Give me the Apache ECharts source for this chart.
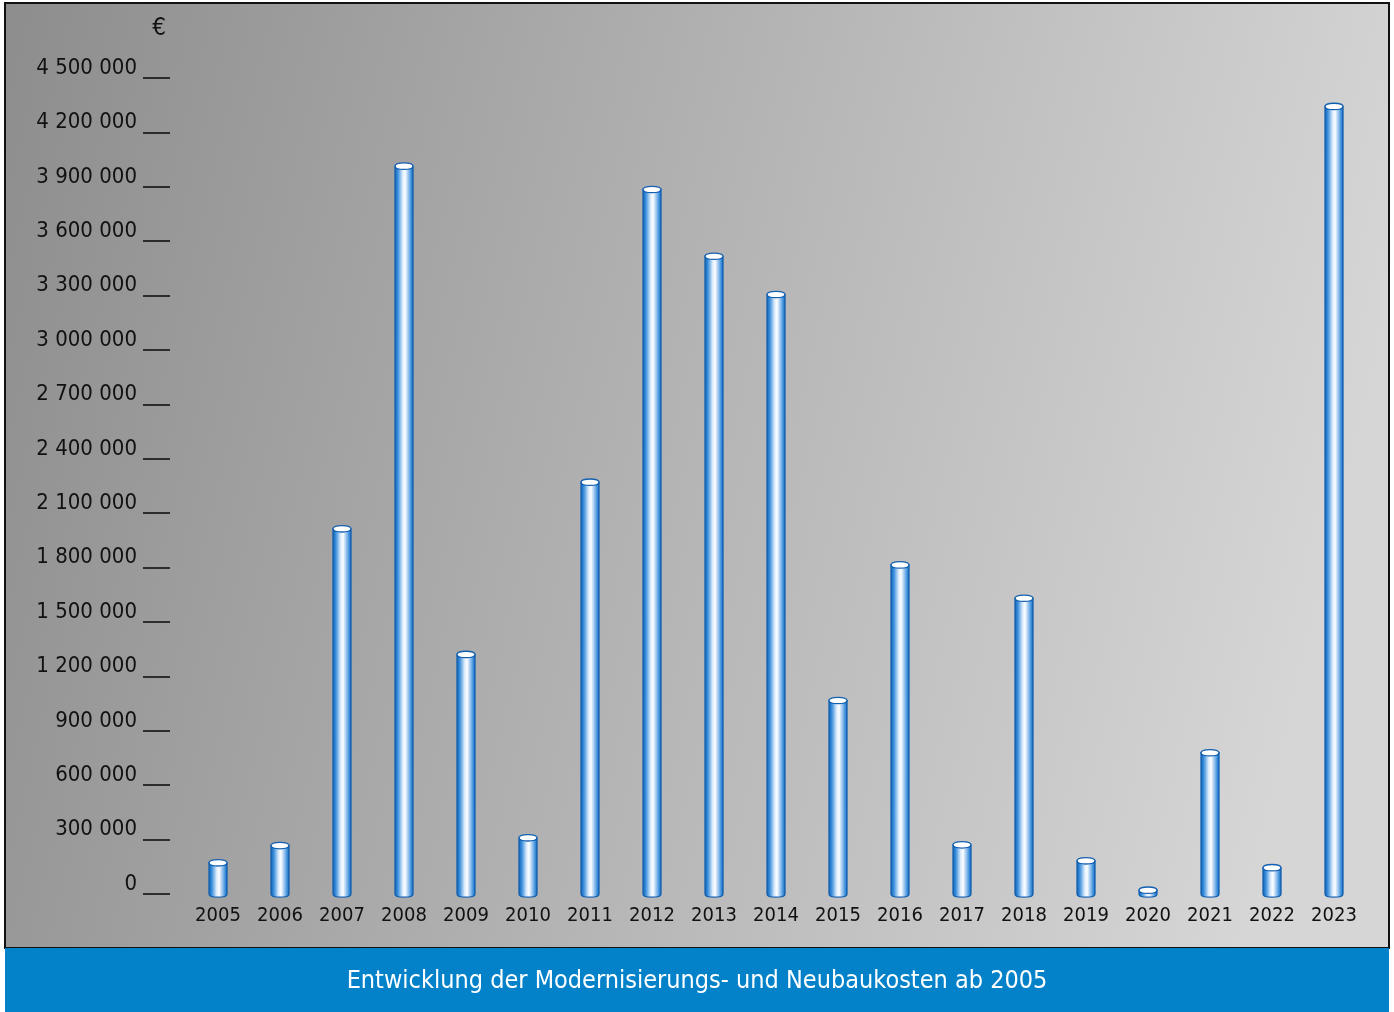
<!DOCTYPE html>
<html>
<head>
<meta charset="utf-8">
<script src="https://cdn.jsdelivr.net/npm/echarts@6/dist/echarts.min.js"></script>
<style>
  html, body { margin: 0; padding: 0; background: #ffffff; }
  #chart { width: 1394px; height: 1012px; }
</style>
</head>
<body>
<div id="chart"></div>
<script>
const years = ['2005', '2006', '2007', '2008', '2009', '2010', '2011', '2012', '2013', '2014',
               '2015', '2016', '2017', '2018', '2019', '2020', '2021', '2022', '2023'];
const costs = [172000, 267000, 2014000, 4014000, 1321000, 310000, 2271000, 3885000, 3517000, 3306000,
               1067000, 1815000, 271000, 1631000, 183000, 21000, 779000, 145000, 4343000];
const yMin = 0;
const yMax = 4500000;
const yStep = 300000;
const unitLabel = '€';
const title = 'Entwicklung der Modernisierungs- und Neubaukosten ab 2005';

const FONT = "'DejaVu Sans Condensed', 'DejaVu Sans', sans-serif";

function fmt(v) {
  return String(v).replace(/\B(?=(\d{3})+(?!\d))/g, ' ');
}

function renderCylinder(params, api) {
  const idx = api.value(0);
  const top = api.coord([idx, api.value(1)]);
  const base = api.coord([idx, 0]);
  const w = api.size([1, 0])[0] * 0.29;
  const rx = w / 2, ry = 3.2, k = ry * 4 / 3;
  const cx = top[0], L = cx - rx, R = cx + rx;
  const ty = top[1], by = base[1];
  const body = `M${L},${ty} L${L},${by} C${L},${by + k} ${R},${by + k} ${R},${by} L${R},${ty} Z`;
  const cap = `M${L},${ty} C${L},${ty - k} ${R},${ty - k} ${R},${ty} C${R},${ty + k} ${L},${ty + k} ${L},${ty} Z`;
  return {
    type: 'group',
    children: [
      {
        type: 'path',
        shape: { pathData: body },
        style: {
          fill: {
            type: 'linear', x: 0, y: 0, x2: 1, y2: 0,
            colorStops: [
              { offset: 0, color: '#0b5cae' },
              { offset: 0.18, color: '#3b8fdc' },
              { offset: 0.42, color: '#d8e9fb' },
              { offset: 0.55, color: '#ffffff' },
              { offset: 0.72, color: '#9cc6f0' },
              { offset: 0.9, color: '#2f86d6' },
              { offset: 1, color: '#0b5cae' }
            ]
          },
          stroke: '#1460b0',
          lineWidth: 1.3
        }
      },
      {
        type: 'path',
        shape: { pathData: cap },
        style: { fill: '#ffffff', stroke: '#1460b0', lineWidth: 1.3 }
      }
    ]
  };
}

const chart = echarts.init(document.getElementById('chart'), null, { renderer: 'canvas' });

chart.setOption({
  animation: false,
  backgroundColor: '#ffffff',
  grid: { left: 187, right: 29, top: 78, bottom: 118, containLabel: false },
  graphic: [
    {
      type: 'rect', z: -10, silent: true,
      shape: { x: 5, y: 3, width: 1384, height: 945 },
      style: {
        fill: {
          type: 'linear', x: 0, y: 0, x2: 1, y2: 0.35,
          colorStops: [
            { offset: 0, color: '#8d8d8d' },
            { offset: 1, color: '#d6d6d6' }
          ]
        },
        stroke: '#111111',
        lineWidth: 2
      }
    },
    {
      type: 'rect', z: -9, silent: true,
      shape: { x: 5, y: 948, width: 1384, height: 64 },
      style: { fill: '#0382ca' }
    },
    {
      type: 'text', z: 10, silent: true,
      x: 697, y: 981,
      style: {
        text: title, fill: '#ffffff', font: `25px ${FONT}`,
        align: 'center', verticalAlign: 'middle'
      }
    },
    {
      type: 'text', z: 10, silent: true,
      x: 159, y: 29,
      style: {
        text: unitLabel, fill: '#111111', font: `24px ${FONT}`,
        align: 'center', verticalAlign: 'middle'
      }
    }
  ],
  xAxis: {
    type: 'category',
    data: years,
    boundaryGap: true,
    axisLine: { show: false },
    axisTick: { show: false },
    axisLabel: {
      interval: 0,
      color: '#111111', fontFamily: FONT, fontSize: 20, margin: 12
    },
    splitLine: { show: false }
  },
  yAxis: {
    type: 'value',
    min: yMin, max: yMax, interval: yStep,
    offset: 17,
    axisLine: { show: false },
    axisTick: { show: true, inside: false, length: 27, lineStyle: { color: '#111111', width: 1.6 } },
    axisLabel: {
      color: '#111111', fontFamily: FONT, fontSize: 22, margin: 33,
      verticalAlign: 'bottom', lineHeight: 20,
      formatter: v => fmt(v)
    },
    splitLine: { show: false }
  },
  series: [{
    type: 'custom',
    renderItem: renderCylinder,
    encode: { x: 0, y: 1 },
    data: costs.map((v, i) => [i, v]),
    z: 5
  }]
});
</script>
</body>
</html>
